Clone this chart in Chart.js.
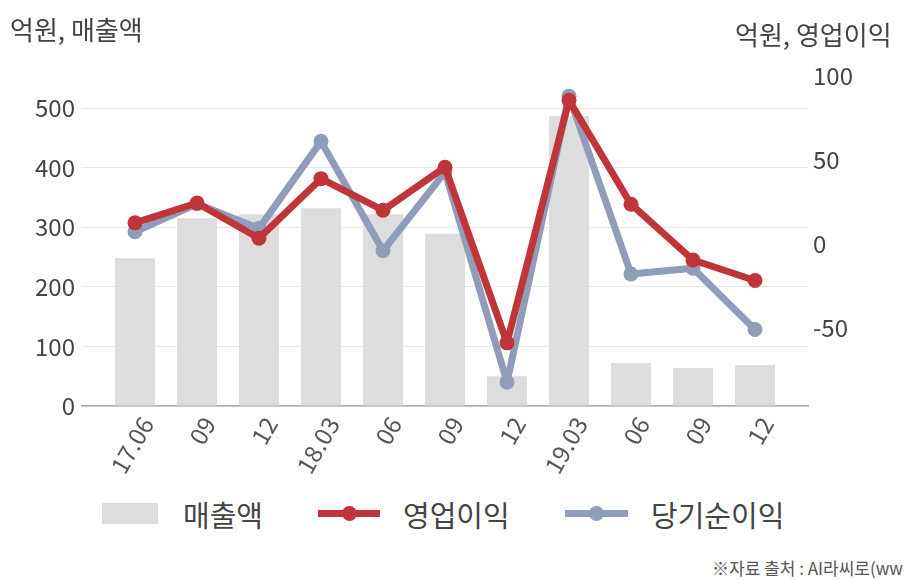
<!DOCTYPE html>
<html>
<head>
<meta charset="utf-8">
<script src="https://cdn.jsdelivr.net/npm/chart.js@4"></script>
<style>
  html, body { margin: 0; padding: 0; background: #fff; }
  body { width: 908px; height: 580px; position: relative; overflow: hidden;
         font-family: "Noto Sans CJK KR", "Noto Sans", sans-serif; color: #444; }
  #wrap { position: absolute; left: 0; top: 0; width: 908px; height: 480px; }
  .title { position: absolute; font-size: 26px; white-space: nowrap; line-height: 1; }
  .leg { position: absolute; top: 496px; font-size: 29px; line-height: 36px; white-space: nowrap; color: #444; }
  .swatch { position: absolute; }
  #source { position: absolute; left: 712px; top: 555px; font-size: 17px; white-space: nowrap; color: #555; }
</style>
</head>
<body>
<div id="wrap"><canvas id="chart" width="908" height="480"></canvas></div>
<div class="title" style="left:10px; top:16px;">억원, 매출액</div>
<div class="title" style="left:735px; top:21px;">억원, 영업이익</div>

<div class="swatch" style="left:102px; top:503px; width:56px; height:21px; background:#dddddd;"></div>
<div class="leg" style="left:183px;">매출액</div>
<div class="swatch" style="left:318px; top:510px; width:62px; height:7px; background:#c0353a;"></div>
<div class="swatch" style="left:342px; top:506px; width:15px; height:15px; border-radius:50%; background:#c0353a;"></div>
<div class="leg" style="left:403px;">영업이익</div>
<div class="swatch" style="left:565px; top:510px; width:63px; height:7px; background:#8f9db8;"></div>
<div class="swatch" style="left:589px; top:506px; width:15px; height:15px; border-radius:50%; background:#8f9db8;"></div>
<div class="leg" style="left:651px;">당기순이익</div>

<div id="source">※자료 출처 : AI라씨로(ww</div>

<script>
// 분기별 실적 데이터
const categories = ['17.06', '09', '12', '18.03', '06', '09', '12', '19.03', '06', '09', '12'];
const revenue = [248, 315, 322, 332, 322, 289, 50, 487, 72, 64, 69];
const operatingProfit = [12.6, 24.4, 3.4, 38.9, 20.1, 45.7, -58.8, 85.6, 23.7, -9.5, -21.7];
const netProfit = [7.3, 24, 9.3, 61.1, -4, 42.8, -82.2, 88, -17.8, -14.4, -50.9];
const leftTicks = [0, 100, 200, 300, 400, 500];
const rightTicks = [-50, 0, 50, 100];

const RED = '#c0353a';
const BLUE = '#8f9db8';
const tickFont = { family: '"Noto Sans CJK KR", "Noto Sans", sans-serif', size: 24 };

// x축은 인덱스 기반 선형 축 (양쪽 여백을 넓게 잡기 위해)
const toPoints = arr => arr.map((v, i) => ({ x: i, y: v }));
const xPad = 0.855;

const ctx = document.getElementById('chart').getContext('2d');

new Chart(ctx, {
    data: {
        datasets: [
            {
                type: 'line',
                label: '영업이익',
                data: toPoints(operatingProfit),
                yAxisID: 'y1',
                borderColor: RED,
                backgroundColor: RED,
                borderWidth: 7,
                borderJoinStyle: 'round',
                borderCapStyle: 'round',
                pointRadius: 7.5,
                pointBorderWidth: 0,
                tension: 0,
                order: 1
            },
            {
                type: 'line',
                label: '당기순이익',
                data: toPoints(netProfit),
                yAxisID: 'y1',
                borderColor: BLUE,
                backgroundColor: BLUE,
                borderWidth: 7,
                borderJoinStyle: 'round',
                borderCapStyle: 'round',
                pointRadius: 7.5,
                pointBorderWidth: 0,
                tension: 0,
                order: 2
            },
            {
                type: 'bar',
                label: '매출액',
                data: toPoints(revenue),
                yAxisID: 'y',
                backgroundColor: '#dddddd',
                barPercentage: 0.645,
                categoryPercentage: 1,
                order: 3
            }
        ]
    },
    options: {
        responsive: false,
        animation: false,
        layout: { padding: { top: 76, left: 0, right: 0, bottom: 0 } },
        plugins: {
            legend: { display: false },
            tooltip: { enabled: false }
        },
        scales: {
            x: {
                type: 'linear',
                offset: false,
                min: -xPad,
                max: categories.length - 1 + xPad,
                grid: { display: false, drawTicks: false },
                border: { color: '#aaaaaa', width: 1.5 },
                ticks: {
                    color: '#555',
                    font: tickFont,
                    minRotation: 60,
                    maxRotation: 60,
                    padding: 6,
                    labelOffset: 12,
                    autoSkip: false,
                    callback: v => categories[v]
                },
                afterBuildTicks: s => { s.ticks = categories.map((c, i) => ({ value: i })); },
                afterFit: s => { s.height = 74; }
            },
            y: {
                position: 'left',
                min: 0,
                max: 554,
                grid: { color: '#e8e8e8', drawTicks: false },
                border: { display: false },
                ticks: { color: '#444', font: tickFont, padding: 7 },
                afterBuildTicks: s => { s.ticks = leftTicks.map(v => ({ value: v })); },
                afterFit: s => { s.width = 82; }
            },
            y1: {
                position: 'right',
                min: -96.4,
                max: 100,
                grid: { display: false, drawTicks: false },
                border: { display: false },
                ticks: { color: '#444', font: tickFont, padding: 5 },
                afterBuildTicks: s => { s.ticks = rightTicks.map(v => ({ value: v })); },
                afterFit: s => { s.width = 100; }
            }
        }
    }
});
</script>
</body>
</html>
